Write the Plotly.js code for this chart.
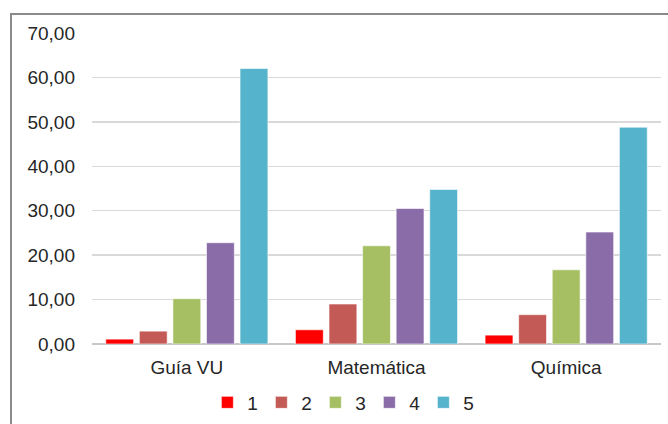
<!DOCTYPE html>
<html><head><meta charset="utf-8">
<script src="https://cdn.plot.ly/plotly-3.0.1.min.js"></script>
<style>
html,body{margin:0;padding:0;background:#fff;overflow:hidden;}
#chart{width:668px;height:424px;position:absolute;left:0;top:0;}
#frame{position:absolute;left:10px;top:13px;width:800px;height:600px;border-left:2px solid #8a8a8a;border-top:2px solid #8a8a8a;pointer-events:none;}
</style></head>
<body>
<div id="chart"></div>
<div id="frame"></div>
<script>
const categories = ["Guía VU", "Matemática", "Química"];
const seriesNames = ["1", "2", "3", "4", "5"];
const s1 = [1.1, 3.2, 2.0];
const s2 = [2.9, 9.0, 6.6];
const s3 = [10.2, 22.1, 16.7];
const s4 = [22.8, 30.5, 25.2];
const s5 = [62.0, 34.8, 48.8];
const colors = ["#FF0000", "#C45A55", "#A5BF62", "#8A6DA8", "#55B3CC"];

const allSeries = [s1, s2, s3, s4, s5];
const traces = allSeries.map((vals, i) => ({
  type: "bar",
  name: seriesNames[i],
  x: categories,
  y: vals,
  marker: {color: colors[i], line: {color: "rgba(255,255,255,0.6)", width: 1}},
  hoverinfo: "none"
}));

const layout = {
  width: 668, height: 424,
  margin: {l: 92, r: 7, t: 33, b: 80, autoexpand: false},
  paper_bgcolor: "#ffffff", plot_bgcolor: "#ffffff",
  separators: ",.",
  barmode: "group",
  bargap: 0.115,
  bargroupgap: 0.17,
  font: {family: "Liberation Sans, Arial, sans-serif", size: 19, color: "#262626"},
  xaxis: {showgrid: false, showline: false, zeroline: false, ticks: "", ticklabelstandoff: 10, tickfont: {size: 19}},
  yaxis: {range: [0, 70], dtick: 10, tickformat: ".2f", showgrid: true, gridcolor: "#d9d9d9", gridwidth: 1.5,
          zeroline: true, zerolinecolor: "#c8c8c8", zerolinewidth: 1.5, showline: false, ticks: "", ticklabelstandoff: 16, tickfont: {size: 19}},
  showlegend: true,
  legend: {orientation: "h", x: 0.44, xanchor: "center", y: -0.127, yanchor: "top", font: {size: 19},
           itemwidth: 30, entrywidth: 9, entrywidthmode: "pixels", traceorder: "normal"}
};
Plotly.newPlot("chart", traces, layout, {staticPlot: true, displayModeBar: false});
</script>
</body></html>
